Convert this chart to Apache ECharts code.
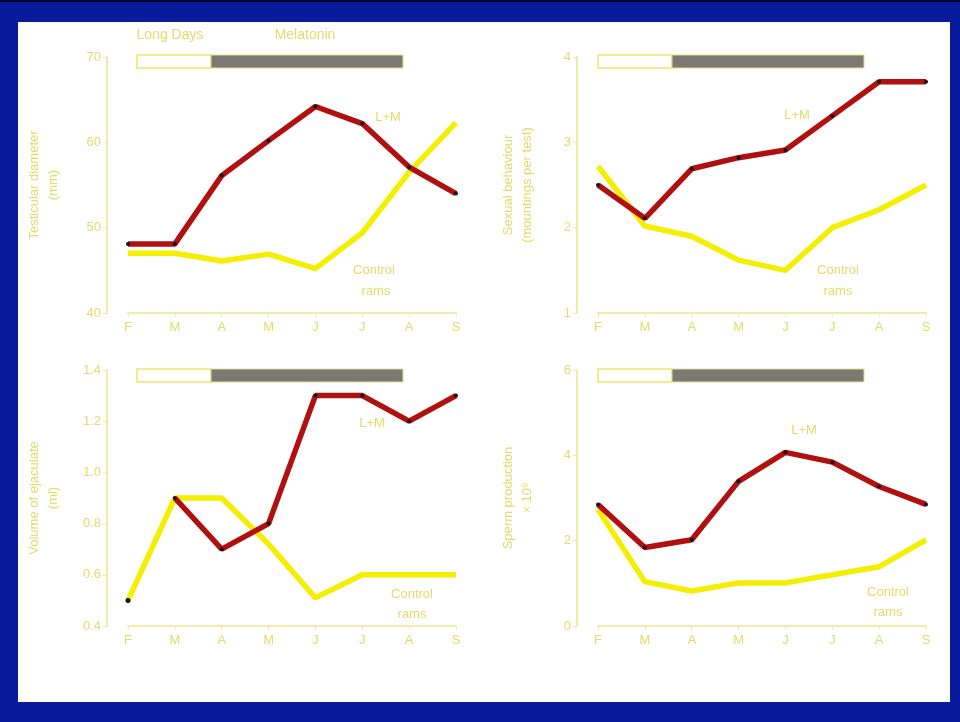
<!DOCTYPE html>
<html><head><meta charset="utf-8">
<script src="https://cdn.jsdelivr.net/npm/echarts@6/dist/echarts.min.js"></script>
<style>html,body{margin:0;padding:0;background:#0a1a9c}#c{width:960px;height:722px}</style>
</head><body><div id="c"></div>
<script>
var months = ['F','M','A','M','J','J','A','S'];

var testisLM = [48.1, 48.1, 56.1, 60.2, 64.2, 62.2, 57.1, 54.0];
var testisCtrl = [47.0, 47.0, 46.1, 46.9, 45.2, 49.4, 56.5, 62.3];

var sexLM = [2.5, 2.11, 2.69, 2.82, 2.91, 3.31, 3.71, 3.71];
var sexCtrl = [2.72, 2.02, 1.9, 1.62, 1.5, 2.0, 2.21, 2.5];

var volLM = [null, 0.9, 0.7, 0.8, 1.3, 1.3, 1.2, 1.3];
var volCtrl = [0.5, 0.9, 0.9, 0.72, 0.51, 0.6, 0.6, 0.6];

var spermLM = [2.85, 1.84, 2.02, 3.39, 4.07, 3.84, 3.27, 2.85];
var spermCtrl = [2.73, 1.04, 0.82, 1.01, 1.01, 1.2, 1.39, 2.02];

var yTitles = ['Testicular diameter\n(mm)', 'Sexual behaviour\n(mountings per test)', 'Volume of ejaculate\n(ml)', 'Sperm production\n× 10⁹'];
var yRanges = [[40, 70, 10], [1, 4, 1], [0.4, 1.4, 0.2], [0, 6, 2]];
var yDecimals = [0, 0, 1, 0];

var txt = '#e2dc6a';
var axisCol = '#eeeca8';
var font = 'Liberation Sans';

var grids = [
  {left: 128, width: 328, top: 57, height: 256},
  {left: 598, width: 328, top: 57, height: 256},
  {left: 128, width: 328, top: 370, height: 256},
  {left: 598, width: 328, top: 370, height: 256}
];

var xAxes = [], yAxes = [], series = [];
var lmData = [testisLM, sexLM, volLM, spermLM];
var ctrlData = [testisCtrl, sexCtrl, volCtrl, spermCtrl];
for (var i = 0; i < 4; i++) {
  (function (i) {
  xAxes.push({
    type: 'category', gridIndex: i, data: months, boundaryGap: false,
    axisLine: {lineStyle: {color: axisCol, width: 2}},
    axisTick: {show: true, alignWithLabel: true, length: 4, lineStyle: {color: axisCol}},
    axisLabel: {color: txt, fontSize: 13, fontFamily: font, margin: 8}
  });
  yAxes.push({
    type: 'value', gridIndex: i, min: yRanges[i][0], max: yRanges[i][1], interval: yRanges[i][2],
    offset: 21,
    axisLine: {show: true, lineStyle: {color: axisCol, width: 2}},
    axisTick: {show: true, length: 4, lineStyle: {color: axisCol}},
    splitLine: {show: false},
    axisLabel: {color: txt, fontSize: 13, fontFamily: font, margin: 6,
      formatter: function (v) { return v.toFixed(yDecimals[i]); }},
    name: yTitles[i], nameLocation: 'middle', nameRotate: 90, nameGap: i % 2 === 0 ? 44 : 40,
    nameTextStyle: {color: txt, fontSize: 13, fontFamily: font, lineHeight: 19, align: 'center'}
  });
  })(i);
  var cd = ctrlData[i].map(function (v, k) {
    if (i === 2 && k === 0) return {value: v, symbol: 'circle', symbolSize: 5, itemStyle: {color: '#111'}};
    return v;
  });
  series.push({
    type: 'line', xAxisIndex: i, yAxisIndex: i, data: cd,
    lineStyle: {color: '#f4ee00', width: 5.5}, itemStyle: {color: '#f4ee00'},
    symbol: 'none', showSymbol: true, z: 2
  });
  series.push({
    type: 'line', xAxisIndex: i, yAxisIndex: i, data: lmData[i],
    lineStyle: {color: '#b01010', width: 5.5}, itemStyle: {color: '#111'},
    symbol: 'circle', symbolSize: 4, showSymbol: true, z: 3
  });
}

var graphics = [
  {type: 'rect', shape: {x: 18, y: 22, width: 932, height: 680}, style: {fill: '#ffffff'}, z: -10},
  {type: 'rect', shape: {x: 0, y: 0, width: 960, height: 2}, style: {fill: '#02062a'}, z: -10}
];
var barPos = [[137, 55], [598, 55], [137, 369], [598, 369]];
barPos.forEach(function (p) {
  graphics.push({type: 'rect', shape: {x: p[0], y: p[1], width: 74, height: 13}, style: {fill: '#ffffff', stroke: '#eeee90', lineWidth: 2}});
  graphics.push({type: 'rect', shape: {x: p[0] + 74, y: p[1], width: 192, height: 13}, style: {fill: '#7a7a72', stroke: '#dede90', lineWidth: 1}});
});
function label(x, y, t, size) {
  graphics.push({type: 'text', x: x, y: y, style: {text: t, fill: txt, font: (size || 13) + 'px "' + font + '"', textAlign: 'center', textVerticalAlign: 'middle'}});
}
label(170, 35, 'Long Days', 14);
label(305, 35, 'Melatonin', 14);
label(388, 117, 'L+M');
label(374, 270, 'Control'); label(376, 291, 'rams');
label(797, 115, 'L+M');
label(838, 270, 'Control'); label(838, 291, 'rams');
label(372, 423, 'L+M');
label(412, 594, 'Control'); label(412, 614, 'rams');
label(804, 430, 'L+M');
label(888, 592, 'Control'); label(888, 612, 'rams');

var chart = echarts.init(document.getElementById('c'));
chart.setOption({
  backgroundColor: '#0a1a9c',
  animation: false,
  grid: grids,
  xAxis: xAxes,
  yAxis: yAxes,
  series: series,
  graphic: graphics
});
</script></body></html>
